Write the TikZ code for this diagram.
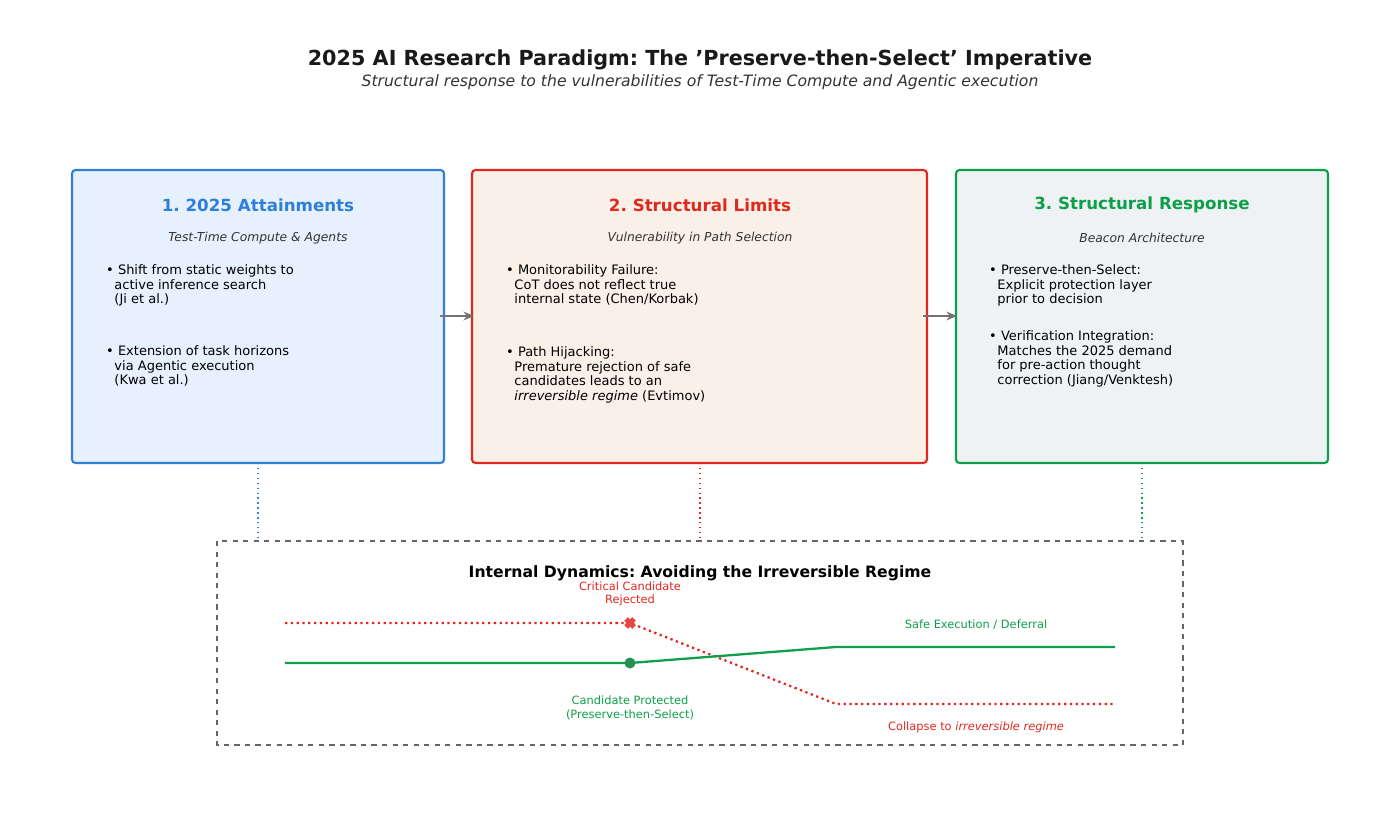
\documentclass[tikz,border=0pt]{standalone}
\usepackage{fontspec}
\setmainfont{DejaVu Sans}
\usetikzlibrary{arrows.meta,calc}
\definecolor{cblue}{HTML}{2F7FD6}
\definecolor{cred}{HTML}{E0281E}
\definecolor{cgreen}{HTML}{0E9F4A}
\frenchspacing
\tikzset{
  panel/.style={draw, line width=1.2pt, rounded corners=2pt},
  head/.style={font=\fontsize{9.5}{11}\selectfont\bfseries},
  sub/.style={font=\fontsize{7}{8}\selectfont\itshape, text=black!80},
  item/.style={anchor=north west, align=left, font=\fontsize{7.4}{8.5}\selectfont},
  flow/.style={-{Stealth[length=6pt,width=5pt]}, draw=gray!90!black, line width=1.5pt},
  link/.style={dotted, line width=0.8pt},
  small/.style={font=\fontsize{6.5}{7.5}\selectfont, align=center}
}
\begin{document}
\begin{tikzpicture}[x=0.02cm,y=-0.02cm]
	\useasboundingbox (0,0) rectangle (1400,837);
	\node[font=\fontsize{11.8}{13}\selectfont\bfseries, text=black!90] (title) at (700,60) {2025 AI Research Paradigm: The \char"27Preserve-then-Select\char"27{} Imperative};
	\node[font=\fontsize{8.9}{10}\selectfont\itshape, text=black!80] (subtitle) at (700,82) {Structural response to the vulnerabilities of Test-Time Compute and Agentic execution};
	%%
	\draw[panel, cblue, fill={rgb,255:red,230;green,241;blue,253}] (72,170) rectangle (444,463);
	\draw[panel, cred, fill={rgb,255:red,250;green,240;blue,232}] (472,170) rectangle (927,463);
	\draw[panel, cgreen, fill={rgb,255:red,238;green,242;blue,245}] (956,170) rectangle (1328,463);
	%%
	\node[head, text=cblue] (h1) at (258,205) {1. 2025 Attainments};
	\node[sub] (s1) at (258,238) {Test-Time Compute \& Agents};
	\node[item] (a1) at (100,258) {• Shift from static weights to\\\ \ active inference search\\\ \ (Ji et al.)};
	\node[item] (a2) at (100,339) {• Extension of task horizons\\\ \ via Agentic execution\\\ \ (Kwa et al.)};
	%%
	\node[head, text=cred] (h2) at (700,205) {2. Structural Limits};
	\node[sub] (s2) at (700,238) {Vulnerability in Path Selection};
	\node[item] (b1) at (500,258) {• Monitorability Failure:\\\ \ CoT does not reflect true\\\ \ internal state (Chen/Korbak)};
	\node[item] (b2) at (500,340) {• Path Hijacking:\\\ \ Premature rejection of safe\\\ \ candidates leads to an\\\ \ \textit{irreversible regime} (Evtimov)};
	%%
	\node[head, text=cgreen] (h3) at (1142,205) {3. Structural Response};
	\node[sub] (s3) at (1142,238) {Beacon Architecture};
	\node[item] (c1) at (983,258) {• Preserve-then-Select:\\\ \ Explicit protection layer\\\ \ prior to decision};
	\node[item] (c2) at (983,324) {• Verification Integration:\\\ \ Matches the 2025 demand\\\ \ for pre-action thought\\\ \ correction (Jiang/Venktesh)};
	%%
	\coordinate (p1r) at (440,316); \coordinate (p2l) at (474,316);
	\coordinate (p2r) at (923,316); \coordinate (p3l) at (957,316);
	\draw[flow] (p1r) -- (p2l);
	\draw[flow] (p2r) -- (p3l);
	%%
	\draw[dashed, line width=0.9pt, draw=black!60] (217,541) rectangle (1183,745);
	\coordinate (d1) at (258,463); \coordinate (e1) at (258,541);
	\coordinate (d2) at (700,463); \coordinate (e2) at (700,541);
	\coordinate (d3) at (1142,463); \coordinate (e3) at (1142,541);
	\draw[link, cblue] (d1) -- (e1);
	\draw[link, cred] (d2) -- (e2);
	\draw[link, cgreen] (d3) -- (e3);
	%%
	\node[font=\fontsize{8.9}{10}\selectfont\bfseries] (dyn) at (700,573) {Internal Dynamics: Avoiding the Irreversible Regime};
	\coordinate (r0) at (285,623); \coordinate (rx) at (630,623);
	\coordinate (r1) at (836,704); \coordinate (r2) at (1115,704);
	\coordinate (g0) at (285,663); \coordinate (gx) at (630,663);
	\coordinate (g1) at (836,647); \coordinate (g2) at (1115,647);
	\draw[cred, line width=1.3pt, dotted] (r0) -- (rx) -- (r1) -- (r2);
	\draw[cgreen, line width=1.3pt] (g0) -- (gx) -- (g1) -- (g2);
	\fill[cgreen!85!black!90] (gx) circle (5.5);
	\draw[cred!85, line width=3pt] ($(rx)+(-4,-4)$) -- ($(rx)+(4,4)$) ($(rx)+(-4,4)$) -- ($(rx)+(4,-4)$);
	\node[small, text=cred] (crit) at (630,594) {Critical Candidate\\Rejected};
	\node[small, text=cgreen] (prot) at (630,708) {Candidate Protected\\(Preserve-then-Select)};
	\node[small, text=cgreen] (safe) at (976,625) {Safe Execution / Deferral};
	\node[small, text=cred] (coll) at (976,727) {Collapse to \textit{irreversible regime}};
\end{tikzpicture}
\end{document}
